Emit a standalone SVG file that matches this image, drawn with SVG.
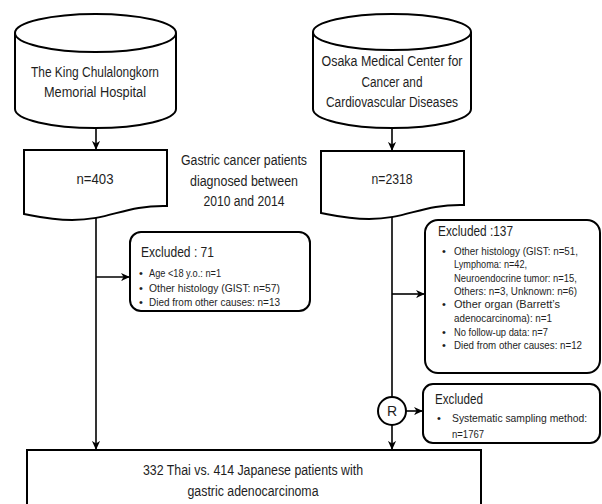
<svg xmlns="http://www.w3.org/2000/svg" width="602" height="504" viewBox="0 0 602 504">
<defs>
<marker id="arr" viewBox="0 0 10 10" refX="9" refY="5" markerWidth="9" markerHeight="9" markerUnits="userSpaceOnUse" orient="auto">
<path d="M0,0.5 L10,5 L0,9.5 L3,5 Z" fill="#000"/>
</marker>
<style>
.s{fill:#fff;stroke:#000;stroke-width:2}
.c{fill:none;stroke:#000;stroke-width:1.6}
text{font-family:"Liberation Sans",Arial,sans-serif;fill:#1e1e1e}
.m{font-size:14px;text-anchor:middle}
.h{font-size:15px}
.b{font-size:11px}
</style>
</defs>
<rect width="602" height="504" fill="#fff"/>

<g id="connectors">
<path class="c" d="M96,128 V149" marker-end="url(#arr)"/>
<path class="c" d="M392,128 V150" marker-end="url(#arr)"/>
<path class="c" d="M96,217 V449" marker-end="url(#arr)"/>
<path class="c" d="M96,277 H129" marker-end="url(#arr)"/>
<path class="c" d="M392,213 V397"/>
<path class="c" d="M392,294 H424" marker-end="url(#arr)"/>
<path class="c" d="M406,411 H422" marker-end="url(#arr)"/>
<path class="c" d="M392,425 V449" marker-end="url(#arr)"/>
</g>

<g id="hospital-thai">
<path class="s" d="M15,33 V109 A80.5,19 0 0 0 176,109 V33"/>
<ellipse class="s" cx="95.5" cy="33" rx="80.5" ry="19"/>
<text class="m" x="95" y="77" textLength="128" lengthAdjust="spacingAndGlyphs">The King Chulalongkorn</text>
<text class="m" x="95" y="97" textLength="102" lengthAdjust="spacingAndGlyphs">Memorial Hospital</text>
</g>

<g id="hospital-japan">
<path class="s" d="M313,32 V109 A79,19 0 0 0 471,109 V32"/>
<ellipse class="s" cx="392" cy="32" rx="79" ry="18"/>
<text class="m" x="392" y="66" textLength="141" lengthAdjust="spacingAndGlyphs">Osaka Medical Center for</text>
<text class="m" x="392" y="87" textLength="61" lengthAdjust="spacingAndGlyphs">Cancer and</text>
<text class="m" x="392" y="107" textLength="132" lengthAdjust="spacingAndGlyphs">Cardiovascular Diseases</text>
</g>

<g id="n403">
<path class="s" d="M24,150 H167 V206 C125,205 110,220 72,220 C50,220 35,216 24,214 Z"/>
<text class="m" x="95" y="184" textLength="37" lengthAdjust="spacingAndGlyphs">n=403</text>
</g>

<g id="n2318">
<path class="s" d="M321,151 H464 V205 C422,204 407,219 369,219 C347,219 332,215 321,213 Z"/>
<text class="m" x="392" y="184" textLength="41" lengthAdjust="spacingAndGlyphs">n=2318</text>
</g>

<g id="caption">
<text class="m" x="244" y="165" textLength="126" lengthAdjust="spacingAndGlyphs">Gastric cancer patients</text>
<text class="m" x="244" y="186" textLength="108" lengthAdjust="spacingAndGlyphs">diagnosed between</text>
<text class="m" x="244" y="206" textLength="81" lengthAdjust="spacingAndGlyphs">2010 and 2014</text>
</g>

<g id="excluded-71">
<rect class="s" x="130" y="232" width="180" height="79" rx="11"/>
<text class="h" x="141" y="257" textLength="73" lengthAdjust="spacingAndGlyphs">Excluded : 71</text>
<text class="b" x="139" y="277">•</text><text class="b" x="149" y="277" textLength="72" lengthAdjust="spacingAndGlyphs">Age &lt;18 y.o.: n=1</text>
<text class="b" x="139" y="292">•</text><text class="b" x="149" y="292" textLength="131" lengthAdjust="spacingAndGlyphs">Other histology (GIST: n=57)</text>
<text class="b" x="139" y="306">•</text><text class="b" x="149" y="306" textLength="131" lengthAdjust="spacingAndGlyphs">Died from other causes: n=13</text>
</g>

<g id="excluded-137">
<rect class="s" x="425" y="220" width="175" height="153" rx="13"/>
<text class="h" x="438" y="236" textLength="75" lengthAdjust="spacingAndGlyphs">Excluded :137</text>
<text class="b" x="442" y="255">•</text><text class="b" x="454" y="255" textLength="124" lengthAdjust="spacingAndGlyphs">Other histology (GIST: n=51,</text>
<text class="b" x="454" y="268" textLength="73" lengthAdjust="spacingAndGlyphs">Lymphoma: n=42,</text>
<text class="b" x="454" y="282" textLength="123" lengthAdjust="spacingAndGlyphs">Neuroendocrine tumor: n=15,</text>
<text class="b" x="454" y="295" textLength="123" lengthAdjust="spacingAndGlyphs">Others: n=3, Unknown: n=6)</text>
<text class="b" x="442" y="308">•</text><text class="b" x="454" y="308" textLength="106" lengthAdjust="spacingAndGlyphs">Other organ (Barrett’s</text>
<text class="b" x="454" y="322" textLength="98" lengthAdjust="spacingAndGlyphs">adenocarcinoma): n=1</text>
<text class="b" x="442" y="336">•</text><text class="b" x="454" y="336" textLength="94" lengthAdjust="spacingAndGlyphs">No follow-up data: n=7</text>
<text class="b" x="442" y="349">•</text><text class="b" x="454" y="349" textLength="128" lengthAdjust="spacingAndGlyphs">Died from other causes: n=12</text>
</g>

<g id="randomize">
<circle class="s" cx="392" cy="411" r="14"/>
<text class="m" x="392" y="416">R</text>
</g>

<g id="excluded-sampling">
<rect class="s" x="423" y="384" width="177" height="59" rx="10"/>
<text class="h" x="435" y="404" textLength="48" lengthAdjust="spacingAndGlyphs">Excluded</text>
<text class="b" x="437" y="422">•</text><text class="b" x="452" y="422" textLength="135" lengthAdjust="spacingAndGlyphs">Systematic sampling method:</text>
<text class="b" x="452" y="438" textLength="32" lengthAdjust="spacingAndGlyphs">n=1767</text>
</g>

<g id="result">
<rect class="s" x="27" y="450" width="454" height="70"/>
<text class="m" x="253" y="475" textLength="220" lengthAdjust="spacingAndGlyphs">332 Thai vs. 414 Japanese patients with</text>
<text class="m" x="253" y="496" textLength="131" lengthAdjust="spacingAndGlyphs">gastric adenocarcinoma</text>
</g>
</svg>
